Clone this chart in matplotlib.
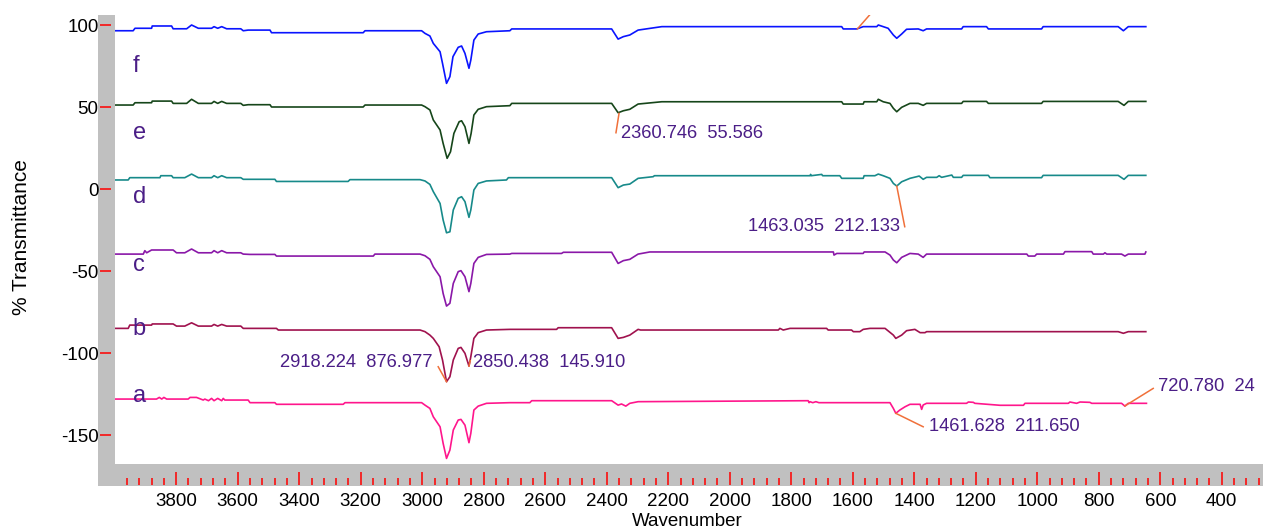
import matplotlib
matplotlib.use("Agg")
import matplotlib.pyplot as plt
from matplotlib.ticker import MultipleLocator, FixedLocator

plt.rcParams['font.family'] = ['Liberation Sans', 'DejaVu Sans']
plt.rcParams['axes.unicode_minus'] = False

# ---------------- data (wavenumber, %T) ----------------
wn_f = [3999, 3940, 3934, 3880, 3878, 3815, 3810, 3766, 3750, 3728, 3685, 3677, 3665, 3652, 3636, 3590, 3582, 3566, 3495, 3490,
        3192, 3186, 3002, 2991, 2975, 2964, 2942, 2934, 2921, 2910, 2900, 2883, 2872, 2861, 2848, 2842, 2832, 2818, 2791, 2715,
        2709, 2384, 2363, 2346, 2325, 2298, 2221, 1636, 1631, 1587, 1566, 1522, 1517, 1501, 1485, 1468, 1457, 1441, 1425, 1387,
        1371, 1360, 1246, 1241, 1165, 1159, 986, 981, 737, 720, 704, 647]
t_f = [96.7, 96.7, 98.2, 98.2, 99.6, 99.6, 97.9, 97.9, 100.2, 98.2, 98.2, 99.2, 98.2, 99.2, 97.9, 97.9, 96.7, 97.1, 97.1, 95.5,
       95.5, 96.7, 96.7, 95.1, 93.5, 89.0, 83.9, 76.8, 64.6, 68.7, 80.9, 86.6, 87.4, 82.9, 73.8, 78.8, 91.0, 94.7, 96.1, 96.7,
       97.8, 97.8, 91.6, 93.1, 94.1, 97.1, 99.2, 99.2, 97.8, 97.8, 99.2, 99.2, 100.2, 99.2, 98.2, 94.1, 92.1, 94.7, 97.6, 97.8,
       96.7, 97.8, 97.8, 99.2, 99.2, 97.8, 97.8, 99.2, 99.2, 96.7, 99.2, 99.2]

wn_e = [3999, 3940, 3934, 3880, 3878, 3815, 3810, 3766, 3750, 3728, 3685, 3677, 3665, 3652, 3636, 3590, 3582, 3566, 3495, 3490,
        3192, 3186, 3002, 2991, 2975, 2964, 2942, 2932, 2919, 2908, 2897, 2880, 2872, 2861, 2848, 2841, 2832, 2818, 2791, 2715,
        2709, 2384, 2363, 2346, 2325, 2298, 2221, 1636, 1631, 1566, 1563, 1522, 1517, 1501, 1479, 1468, 1457, 1441, 1414, 1387,
        1371, 1360, 1246, 1241, 1165, 1159, 986, 981, 737, 718, 704, 647]
t_e = [51.4, 51.4, 52.8, 52.8, 53.8, 53.8, 52.4, 52.4, 54.9, 52.4, 52.4, 53.6, 52.4, 53.6, 52.4, 52.4, 51.2, 51.6, 51.6, 50.2,
       50.2, 51.4, 51.4, 50.4, 48.4, 42.3, 36.2, 28.0, 18.9, 22.9, 34.1, 41.2, 41.8, 38.2, 28.0, 34.1, 45.3, 48.8, 50.4, 51.0,
       52.4, 52.4, 46.7, 47.9, 48.8, 52.0, 53.4, 53.4, 52.0, 52.0, 53.4, 53.4, 54.9, 53.4, 52.4, 49.4, 47.3, 50.0, 52.4, 52.4,
       51.2, 52.4, 52.4, 53.6, 53.6, 52.4, 52.4, 53.6, 53.6, 51.2, 53.6, 53.6]

wn_d = [3999, 3956, 3951, 3853, 3850, 3815, 3810, 3772, 3750, 3728, 3685, 3677, 3665, 3652, 3636, 3590, 3582, 3560, 3479, 3474,
        3241, 3235, 3007, 2991, 2975, 2964, 2942, 2932, 2921, 2910, 2899, 2883, 2872, 2861, 2848, 2842, 2832, 2818, 2791, 2726,
        2720, 2384, 2363, 2346, 2325, 2298, 2249, 2245, 1739, 1737, 1735, 1701, 1698, 1642, 1636, 1566, 1563, 1528, 1517, 1501,
        1479, 1468, 1457, 1441, 1414, 1392, 1384, 1371, 1360, 1327, 1319, 1311, 1278, 1273, 1246, 1241, 1159, 1154, 986, 981,
        737, 718, 704, 647]
t_d = [5.7, 5.7, 7.1, 7.1, 8.3, 8.3, 7.1, 7.1, 9.3, 7.1, 7.1, 8.3, 7.1, 8.3, 7.1, 7.1, 6.1, 6.1, 6.1, 4.8,
       4.8, 5.9, 5.9, 5.1, 3.0, -1.4, -8.6, -18.7, -26.5, -25.9, -12.6, -5.5, -4.5, -7.5, -17.1, -12.6, -0.4, 3.6, 5.1, 5.7,
       7.1, 7.1, 1.0, 2.6, 3.2, 6.7, 7.7, 8.3, 8.3, 9.1, 8.3, 9.1, 8.3, 8.3, 6.7, 6.7, 8.3, 8.3, 9.3, 8.3,
       6.7, 3.6, 2.0, 4.6, 6.7, 7.7, 8.1, 6.1, 7.3, 7.3, 8.3, 7.3, 8.7, 7.3, 7.3, 8.5, 8.5, 7.1, 7.1, 8.5,
       8.5, 6.1, 8.5, 8.5]

wn_c = [3999, 3907, 3902, 3896, 3880, 3810, 3799, 3772, 3750, 3728, 3685, 3677, 3665, 3652, 3636, 3590, 3582, 3560, 3479, 3474,
        3159, 3154, 3007, 2991, 2975, 2964, 2942, 2932, 2921, 2910, 2899, 2883, 2874, 2861, 2848, 2842, 2832, 2818, 2791, 2715,
        2709, 2547, 2541, 2384, 2363, 2346, 2325, 2298, 2260, 1663, 1661, 1652, 1566, 1563, 1495, 1479, 1468, 1457, 1441, 1414,
        1387, 1371, 1360, 1034, 1029, 1008, 1002, 915, 910, 823, 818, 785, 780, 774, 726, 715, 704, 650, 647]
t_c = [-39.5, -39.5, -37.4, -38.7, -37.0, -37.0, -38.7, -38.7, -36.4, -38.7, -38.7, -37.4, -38.7, -37.4, -38.7, -38.7, -39.5, -39.7, -39.7, -40.7,
       -40.7, -39.5, -39.5, -40.5, -42.7, -47.2, -53.3, -63.5, -71.2, -69.5, -57.4, -50.2, -49.6, -53.3, -62.4, -57.4, -45.2, -41.5, -39.7, -39.5,
       -39.1, -39.1, -38.4, -38.4, -45.2, -43.5, -42.7, -39.5, -38.2, -38.2, -40.1, -39.1, -39.1, -38.2, -38.2, -40.1, -43.1, -44.8, -41.5, -39.1,
       -39.5, -41.5, -39.5, -39.5, -40.7, -40.7, -39.5, -39.5, -38.0, -38.0, -39.5, -39.5, -38.7, -39.5, -39.5, -40.7, -39.5, -39.5, -38.2]

wn_b = [3999, 3956, 3951, 3880, 3878, 3810, 3799, 3772, 3750, 3728, 3685, 3677, 3665, 3652, 3636, 3590, 3582, 3474, 3468, 3007,
        2991, 2975, 2964, 2945, 2934, 2921, 2910, 2899, 2883, 2874, 2861, 2848, 2842, 2832, 2818, 2791, 2715, 2563, 2558, 2384,
        2363, 2346, 2325, 2298, 2290, 1842, 1837, 1826, 1804, 1685, 1680, 1604, 1598, 1577, 1566, 1544, 1495, 1468, 1460, 1441,
        1425, 1398, 1381, 1365, 1360, 737, 720, 704, 647]
t_b = [-84.8, -84.8, -82.8, -82.8, -82.1, -82.1, -83.4, -83.4, -81.4, -83.4, -83.4, -82.4, -83.4, -82.4, -83.4, -83.4, -84.8, -84.8, -85.8, -85.8,
       -86.8, -88.9, -90.9, -96.0, -104.1, -117.3, -114.3, -104.1, -97.0, -96.4, -100.0, -107.8, -102.1, -90.9, -87.4, -85.8, -85.4, -85.4, -84.4, -84.4,
       -90.9, -90.3, -88.9, -85.4, -85.8, -85.8, -84.8, -85.8, -84.8, -84.8, -85.8, -85.8, -86.8, -86.8, -85.4, -84.8, -84.8, -88.9, -90.9, -88.9,
       -86.2, -85.4, -87.4, -87.4, -86.8, -86.8, -87.8, -86.8, -86.8]

wn_a = [3999, 3864, 3855, 3847, 3840, 3831, 3761, 3755, 3734, 3712, 3707, 3695, 3685, 3677, 3665, 3652, 3647, 3642, 3566, 3560,
        3479, 3474, 3257, 3251, 3002, 2991, 2975, 2964, 2942, 2932, 2921, 2910, 2899, 2883, 2874, 2861, 2848, 2842, 2832, 2818,
        2791, 2715, 2650, 2644, 2384, 2363, 2352, 2338, 2325, 2298, 1745, 1742, 1739, 1730, 1720, 1710, 1701, 1512, 1479, 1468,
        1460, 1447, 1430, 1414, 1381, 1376, 1371, 1360, 1230, 1224, 1208, 1203, 1121, 1045, 1040, 899, 894, 872, 861, 829,
        823, 726, 715, 704, 645]
t_a = [-127.9, -127.9, -126.9, -127.9, -126.9, -127.9, -127.9, -126.9, -126.9, -128.5, -127.9, -128.9, -127.5, -128.9, -127.5, -128.9, -127.5, -128.5, -128.5, -130.1,
       -130.1, -131.1, -131.1, -130.1, -130.1, -131.6, -133.6, -138.7, -144.8, -154.9, -164.1, -159.0, -146.8, -140.7, -140.3, -143.8, -154.5, -148.8, -134.6, -132.2,
       -130.5, -130.1, -130.1, -128.9, -128.9, -131.6, -130.9, -132.2, -130.5, -129.5, -128.9, -130.1, -129.5, -130.1, -129.5, -130.1, -130.1, -130.1, -130.1, -133.6,
       -136.6, -134.6, -132.6, -131.1, -131.1, -134.2, -131.5, -130.5, -130.5, -129.7, -129.9, -130.5, -131.7, -131.7, -130.5, -130.5, -129.7, -130.5, -129.7, -129.9,
       -130.5, -130.5, -132.2, -130.5, -130.5]

series_labels = ["f", "e", "d", "c", "b", "a"]
series_wn = [wn_f, wn_e, wn_d, wn_c, wn_b, wn_a]
series_t = [t_f, t_e, t_d, t_c, t_b, t_a]
series_colors = ["#0a14ff", "#16461a", "#178a8a", "#8a18a8", "#a0124e", "#ff168c"]
label_pos_t = [75.2, 34.3, -4.7, -46.1, -85.2, -126.0]

y_ticks = [100, 50, 0, -50, -100, -150]
x_major = [3800, 3600, 3400, 3200, 3000, 2800, 2600, 2400, 2200, 2000, 1800, 1600, 1400, 1200, 1000, 800, 600, 400]

# peak annotations: text, peak point, line end, text anchor
ann_text = ["2918.224  876.977", "2850.438  145.910", "2360.746  55.586",
            "1463.035  212.133", "1461.628  211.650", "720.780  24"]
ann_peak = [(2921, -117.3), (2848, -107.8), (2360, 46.3), (1457, 2.0), (1460, -136.6), (715, -132.1)]
ann_end = [(2948, -108.2), (2844, -104.5), (2370, 34.5), (1431, -22.8), (1371, -144.8), (623, -121.4)]
ann_txt_xy = [(2965, -105.9), (2834, -105.9), (2355, 34.3), (1447, -22.8), (1352, -144.8), (607, -120.4)]
ann_ha = ["right", "left", "left", "right", "left", "left"]

XLIM = (3999, 266)
YLIM = (-167.5, 106.3)

# ---------------- layout (pixel helpers) ----------------
W, H = 1263, 532
def box(x0, y0, x1, y1):
    return [x0 / W, 1 - y1 / H, (x1 - x0) / W, (y1 - y0) / H]

def bare(a):
    for s in a.spines.values():
        s.set_visible(False)

fig = plt.figure(figsize=(W / 100, H / 100), dpi=100)
fig.patch.set_facecolor("white")

gray = "#c0c0c0"
bg = fig.add_axes(box(98, 15, W, 486), zorder=0)
bg.set_facecolor(gray)
bare(bg)
bg.set_xticks([])
bg.set_yticks([])

ax = fig.add_axes(box(115, 15, W, 464), zorder=1)
ax.set_facecolor("white")
bare(ax)
ax.set_xlim(*XLIM)
ax.set_ylim(*YLIM)
ax.set_xticks([])
ax.set_yticks([])

for lab, wn, t, col, ly in zip(series_labels, series_wn, series_t, series_colors, label_pos_t):
    ax.plot(wn, t, color=col, lw=1.2, solid_joinstyle="round")
    ax.text(3941, ly, lab, color="#4b1e87", fontsize=17, ha="left", va="center")

orange = "#f0703a"
txtc = "#4b1e87"
for txt, pk, en, tp, ha in zip(ann_text, ann_peak, ann_end, ann_txt_xy, ann_ha):
    ax.plot([pk[0], en[0]], [pk[1], en[1]], color=orange, lw=1.1)
    ax.text(tp[0], tp[1], txt, color=txtc, fontsize=13.2, ha=ha, va="center")

# marker leading off the top of the plot
ax.plot([1585, 1500], [97.8, 116.0], color=orange, lw=1.1)

# left tick band
axl = fig.add_axes(box(100, 15, 115, 464), zorder=2)
axl.set_facecolor("none")
bare(axl)
axl.set_ylim(*YLIM)
axl.set_xticks([])
axl.yaxis.set_major_locator(FixedLocator(y_ticks))
axl.tick_params(axis="y", direction="in", length=7.6, width=1.1, color="red",
                labelsize=13.5, pad=1)

# bottom tick band
axb = fig.add_axes(box(115, 464, W, 485), zorder=2)
axb.set_facecolor("none")
bare(axb)
axb.set_xlim(*XLIM)
axb.set_yticks([])
axb.xaxis.set_major_locator(FixedLocator(x_major))
axb.xaxis.set_minor_locator(MultipleLocator(40))
axb.tick_params(axis="x", which="major", direction="in", length=9.4, width=1.1,
                color="red", labelsize=13.5, pad=6)
axb.tick_params(axis="x", which="minor", direction="in", length=4.7, width=1.1, color="red")

fig.text(22 / W, 1 - 237.5 / H, "% Transmittance", rotation=90, ha="center", va="center", fontsize=15)
fig.text(687 / W, 1 - 522 / H, "Wavenumber", ha="center", va="center", fontsize=13.5)

fig.savefig("out.png", dpi=100)
